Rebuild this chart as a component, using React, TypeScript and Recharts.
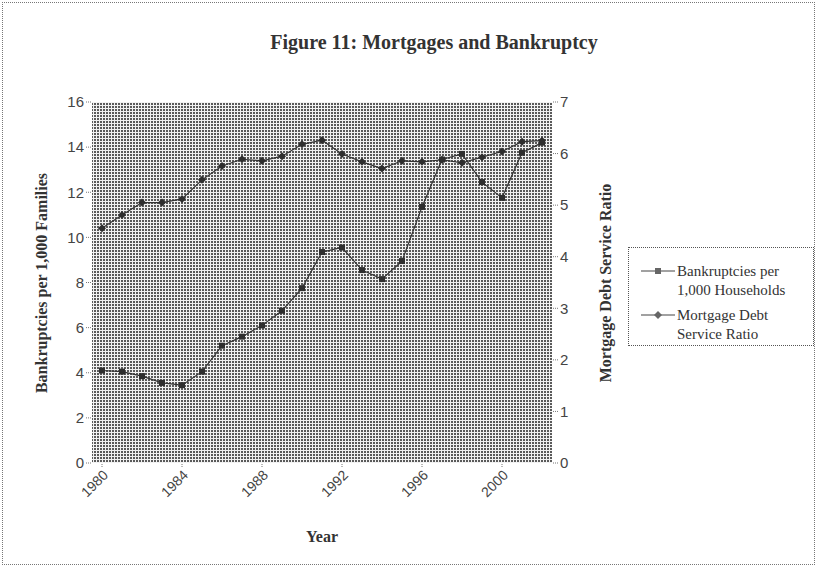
import { LineChart, Line, XAxis, YAxis, CartesianGrid } from "recharts";

const years = [
  "1980", "1981", "1982", "1983", "1984", "1985", "1986", "1987", "1988", "1989", "1990", "1991",
  "1992", "1993", "1994", "1995", "1996", "1997", "1998", "1999", "2000", "2001", "2002",
];
// left axis, per 1,000 households
const bankruptcies = [
  4.1, 4.05, 3.85, 3.55, 3.45, 4.05, 5.2, 5.6, 6.1, 6.75, 7.75, 9.35,
  9.55, 8.55, 8.15, 8.95, 11.35, 13.45, 13.7, 12.45, 11.75, 13.75, 14.2,
];
// right axis
const mortgageRatio = [
  4.55, 4.81, 5.05, 5.05, 5.12, 5.49, 5.76, 5.89, 5.86, 5.95, 6.18, 6.26,
  5.99, 5.84, 5.71, 5.86, 5.84, 5.88, 5.82, 5.93, 6.04, 6.23, 6.25,
];
const leftTicks = [0, 2, 4, 6, 8, 10, 12, 14, 16];
const rightTicks = [0, 1, 2, 3, 4, 5, 6, 7];

const data = years.map((year, i) => ({
  year,
  bankruptcies: bankruptcies[i],
  mortgage: mortgageRatio[i],
}));

const serif = "'Liberation Serif', 'Times New Roman', serif";
const sans = "'Liberation Sans', Arial, sans-serif";
const tickStyle = { fontSize: 15, fill: "#444", fontFamily: sans };

const SquareDot = (props: any) => {
  const { cx, cy, index } = props;
  return <rect key={`sq-${index}`} x={cx - 3} y={cy - 3} width={6} height={6} fill="#2e2e2e" />;
};

const DiamondDot = (props: any) => {
  const { cx, cy, index } = props;
  return (
    <polygon
      key={`dm-${index}`}
      points={`${cx},${cy - 4} ${cx + 4},${cy} ${cx},${cy + 4} ${cx - 4},${cy}`}
      fill="#2e2e2e"
    />
  );
};

function LegendMark({ kind }: { kind: "square" | "diamond" }) {
  return (
    <svg width={38} height={12} style={{ flex: "none", marginTop: 3 }}>
      <line x1={2} y1={6} x2={36} y2={6} stroke="#444" strokeWidth={1.2} />
      {kind === "square" ? (
        <rect x={16} y={3} width={6} height={6} fill="#666" />
      ) : (
        <polygon points="19,2 23,6 19,10 15,6" fill="#666" />
      )}
    </svg>
  );
}

export default function App() {
  return (
    <div style={{ position: "absolute", left: 0, top: 0, width: 818, height: 567, background: "#fff" }}>
      <div
        style={{
          position: "absolute", left: 2, top: 2, width: 811, height: 561,
          border: "1px dotted #777",
        }}
      />
      <LineChart
        width={818}
        height={567}
        data={data}
        margin={{ top: 102, right: 216, bottom: 44, left: 30 }}
      >
        <defs>
          <pattern id="halftone" width={3} height={3} patternUnits="userSpaceOnUse">
            <rect x={0} y={0} width={3} height={3} fill="#5a5a5a" />
            <rect x={0} y={0} width={3} height={1} fill="#f2f2f2" />
            <rect x={0} y={0} width={1} height={3} fill="#f2f2f2" />
          </pattern>
        </defs>
        <CartesianGrid horizontal={false} vertical={false} fill="url(#halftone)" fillOpacity={1} />
        <XAxis
          dataKey="year"
          interval={3}
          height={60}
          padding={{ left: 10, right: 10 }}
          axisLine={false}
          tickLine={{ stroke: "#777", strokeDasharray: "1 1" }}
          tickSize={4}
          angle={-45}
          textAnchor="end"
          tick={{ ...tickStyle, fontSize: 14 }}
        />
        <YAxis
          yAxisId="left"
          domain={[0, 16]}
          ticks={leftTicks}
          width={62}
          axisLine={false}
          tickLine={{ stroke: "#777", strokeDasharray: "1 1" }}
          tickSize={6}
          tick={tickStyle}
        />
        <YAxis
          yAxisId="right"
          orientation="right"
          domain={[0, 7]}
          ticks={rightTicks}
          width={50}
          axisLine={false}
          tickLine={{ stroke: "#777", strokeDasharray: "1 1" }}
          tickSize={6}
          tick={tickStyle}
        />
        <Line
          yAxisId="left"
          dataKey="bankruptcies"
          stroke="#333"
          strokeWidth={1.2}
          dot={SquareDot}
          isAnimationActive={false}
        />
        <Line
          yAxisId="right"
          dataKey="mortgage"
          stroke="#333"
          strokeWidth={1.2}
          dot={DiamondDot}
          isAnimationActive={false}
        />
      </LineChart>

      <div
        style={{
          position: "absolute", left: 434, top: 42, transform: "translate(-50%, -50%)",
          fontFamily: serif, fontWeight: "bold", fontSize: 20, color: "#333", whiteSpace: "nowrap",
        }}
      >
        Figure 11: Mortgages and Bankruptcy
      </div>
      <div
        style={{
          position: "absolute", left: 42, top: 283, transform: "translate(-50%, -50%) rotate(-90deg)",
          fontFamily: serif, fontWeight: "bold", fontSize: 16, color: "#333", whiteSpace: "nowrap",
        }}
      >
        Bankruptcies per 1,000 Families
      </div>
      <div
        style={{
          position: "absolute", left: 606, top: 283, transform: "translate(-50%, -50%) rotate(-90deg)",
          fontFamily: serif, fontWeight: "bold", fontSize: 16, color: "#333", whiteSpace: "nowrap",
        }}
      >
        Mortgage Debt Service Ratio
      </div>
      <div
        style={{
          position: "absolute", left: 322, top: 537, transform: "translate(-50%, -50%)",
          fontFamily: serif, fontWeight: "bold", fontSize: 16, color: "#333",
        }}
      >
        Year
      </div>

      <div
        style={{
          position: "absolute", left: 628, top: 247, width: 186, height: 99,
          border: "1px dotted #555", boxSizing: "border-box",
          fontFamily: serif, fontSize: 15, color: "#333", lineHeight: "19px",
          padding: "14px 0 0 10px",
        }}
      >
        <div style={{ display: "flex", alignItems: "flex-start" }}>
          <LegendMark kind="square" />
          <div>Bankruptcies per<br />1,000 Households</div>
        </div>
        <div style={{ display: "flex", alignItems: "flex-start", marginTop: 6 }}>
          <LegendMark kind="diamond" />
          <div>Mortgage Debt<br />Service Ratio</div>
        </div>
      </div>
    </div>
  );
}
